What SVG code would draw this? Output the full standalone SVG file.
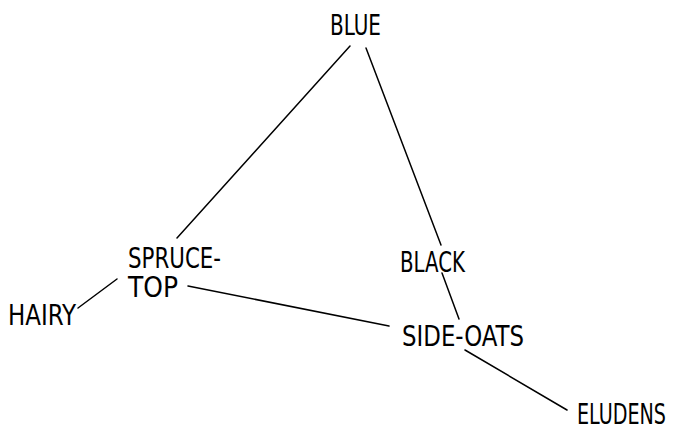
<svg xmlns="http://www.w3.org/2000/svg" width="674" height="432" viewBox="0 0 674 432">
<style>
text{font-family:"DejaVu Sans Condensed","DejaVu Sans",sans-serif;font-size:22px;fill:#000}
.c line{stroke:#000;stroke-width:1.5;stroke-linecap:round}
</style>
<rect width="674" height="432" fill="#fff"/>
<g class="c" id="connectors">
<line x1="350" y1="46" x2="177" y2="238"/>
<line x1="366" y1="48" x2="441" y2="245"/>
<line x1="442" y1="273" x2="459" y2="319"/>
<line x1="78" y1="308" x2="117" y2="279"/>
<line x1="188" y1="286" x2="389" y2="326"/>
<line x1="465" y1="350" x2="567" y2="410"/>
</g>
<g id="blue"><text transform="translate(330,35) scale(1,1.32)" textLength="51" lengthAdjust="spacingAndGlyphs">BLUE</text></g>
<g id="sprucetop"><text transform="translate(128,268) scale(1,1.32)" textLength="93" lengthAdjust="spacingAndGlyphs">SPRUCE-</text><text transform="translate(128,297) scale(1,1.32)" textLength="50" lengthAdjust="spacingAndGlyphs">TOP</text></g>
<g id="hairy"><text transform="translate(8,325) scale(1,1.32)" textLength="68" lengthAdjust="spacingAndGlyphs">HAIRY</text></g>
<g id="black"><text transform="translate(400,272) scale(1,1.32)" textLength="65" lengthAdjust="spacingAndGlyphs">BLACK</text></g>
<g id="sideoats"><text transform="translate(402,346) scale(1,1.32)" textLength="122" lengthAdjust="spacingAndGlyphs">SIDE-OATS</text></g>
<g id="eludens"><text transform="translate(577,424) scale(1,1.32)" textLength="89" lengthAdjust="spacingAndGlyphs">ELUDENS</text></g>
</svg>
